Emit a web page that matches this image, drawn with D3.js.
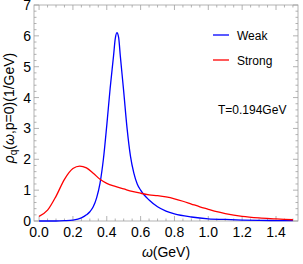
<!DOCTYPE html>
<html>
<head>
<meta charset="utf-8">
<script src="https://cdn.jsdelivr.net/npm/d3@7"></script>
<style>
  body { margin: 0; background: #fff; }
  text { font-family: "Liberation Sans", Arial, sans-serif; }
</style>
</head>
<body>
<div id="chart"></div>
<script>
// spectral functions
var weakW = [0, 0.1, 0.15, 0.2, 0.25, 0.28, 0.3, 0.32, 0.34, 0.36, 0.38, 0.4, 0.42, 0.44, 0.45, 0.46, 0.47, 0.48, 0.5, 0.52, 0.54, 0.56, 0.58, 0.6, 0.62, 0.65, 0.7, 0.75, 0.8, 0.9, 1.0, 1.1, 1.2, 1.3, 1.4, 1.5];
var weakRho = [0, 0.0, 0.01, 0.03, 0.1, 0.2, 0.3, 0.46, 0.75, 1.22, 2.0, 3.1, 4.3, 5.35, 5.9, 6.1, 5.95, 5.35, 4.2, 3.0, 2.1, 1.55, 1.2, 1.0, 0.85, 0.68, 0.46, 0.32, 0.23, 0.13, 0.07, 0.05, 0.03, 0.02, 0.015, 0.01];
var strongW = [0, 0.05, 0.1, 0.15, 0.2, 0.24, 0.28, 0.32, 0.36, 0.4, 0.45, 0.5, 0.55, 0.6, 0.65, 0.7, 0.75, 0.8, 0.85, 0.9, 0.95, 1.0, 1.05, 1.1, 1.2, 1.3, 1.4, 1.5];
var strongRho = [0.15, 0.35, 0.8, 1.35, 1.7, 1.78, 1.72, 1.55, 1.35, 1.22, 1.12, 1.04, 0.96, 0.9, 0.85, 0.82, 0.78, 0.72, 0.64, 0.55, 0.46, 0.38, 0.30, 0.24, 0.15, 0.1, 0.07, 0.04];
var xTicks = [0, 0.2, 0.4, 0.6, 0.8, 1.0, 1.2, 1.4];
var yTicks = [0, 1, 2, 3, 4, 5, 6, 7];
var seriesNames = ['Weak', 'Strong'];
var seriesColors = ['#0000ff', '#ff0000'];

var W = 303, H = 264;
var mLeft = 34, mRight = 298, mTop = 5, mBottom = 221;

var svg = d3.select('#chart').append('svg')
  .attr('width', W)
  .attr('height', H);

var x = d3.scaleLinear().domain([-0.03, 1.53]).range([mLeft, mRight]);
var y = d3.scaleLinear().domain([0, 7]).range([mBottom, mTop]);

var frameColor = '#a0a0a0';

// minor ticks
var xMinor = d3.range(0, 1.5001, 0.05);
var yMinor = d3.range(0, 7.0001, 0.2);

function tickLine(g, x1, y1, x2, y2) {
  g.append('line')
    .attr('x1', x1).attr('y1', y1).attr('x2', x2).attr('y2', y2)
    .attr('stroke', frameColor).attr('stroke-width', 0.8);
}

var ticks = svg.append('g');
xMinor.forEach(function(v) {
  var major = Math.abs(v / 0.2 - Math.round(v / 0.2)) < 1e-6;
  var len = major ? 5 : 2.5;
  tickLine(ticks, x(v), mBottom, x(v), mBottom - len);
  tickLine(ticks, x(v), mTop, x(v), mTop + len);
});
yMinor.forEach(function(v) {
  var major = Math.abs(v - Math.round(v)) < 1e-6;
  var len = major ? 5 : 2.5;
  tickLine(ticks, mLeft, y(v), mLeft + len, y(v));
  tickLine(ticks, mRight, y(v), mRight - len, y(v));
});

svg.append('rect')
  .attr('x', mLeft).attr('y', mTop)
  .attr('width', mRight - mLeft).attr('height', mBottom - mTop)
  .attr('fill', 'none')
  .attr('stroke', frameColor)
  .attr('stroke-width', 0.8);

// tick labels
svg.append('g').selectAll('text').data(xTicks).enter().append('text')
  .attr('x', function(d) { return x(d); })
  .attr('y', mBottom + 16)
  .attr('text-anchor', 'middle')
  .attr('font-size', 14)
  .text(function(d) { return d.toFixed(1); });

svg.append('g').selectAll('text').data(yTicks).enter().append('text')
  .attr('x', mLeft - 3)
  .attr('y', function(d) { return y(d) + 5; })
  .attr('text-anchor', 'end')
  .attr('font-size', 14)
  .text(function(d) { return d; });

// axis titles
var xl = svg.append('text')
  .attr('x', (x(0) + x(1.5)) / 2)
  .attr('y', 257)
  .attr('text-anchor', 'middle')
  .attr('font-size', 14);
xl.append('tspan').attr('font-style', 'italic').text('ω');
xl.append('tspan').text('(GeV)');

var yl = svg.append('text')
  .attr('transform', 'translate(14,' + ((mTop + mBottom) / 2 - 5) + ') rotate(-90)')
  .attr('text-anchor', 'middle')
  .attr('font-size', 14);
yl.append('tspan').attr('font-style', 'italic').text('ρ');
yl.append('tspan').attr('font-size', 10).attr('dy', 3).text('q');
yl.append('tspan').attr('dy', -3).text('(');
yl.append('tspan').attr('font-style', 'italic').text('ω');
yl.append('tspan').text(',p=0)(1/GeV)');

// curves
var line = d3.line()
  .x(function(d) { return x(d[0]); })
  .y(function(d) { return y(d[1]); })
  .curve(d3.curveMonotoneX);

var series = [d3.zip(weakW, weakRho), d3.zip(strongW, strongRho)];
var plot = svg.append('g');
series.forEach(function(s, i) {
  plot.append('path')
    .datum(s)
    .attr('d', line)
    .attr('fill', 'none')
    .attr('stroke', seriesColors[i])
    .attr('stroke-width', 1.3);
});

// legend
var legend = svg.append('g');
seriesNames.forEach(function(name, i) {
  var ly = 35 + i * 25;
  legend.append('line')
    .attr('x1', 213).attr('x2', 229)
    .attr('y1', ly).attr('y2', ly)
    .attr('stroke', seriesColors[i])
    .attr('stroke-width', 1.3);
  legend.append('text')
    .attr('x', 237).attr('y', ly + 5)
    .attr('font-size', 12)
    .text(name);
});

svg.append('text')
  .attr('x', 218).attr('y', 114)
  .attr('font-size', 12)
  .text('T=0.194GeV');
</script>
</body>
</html>
